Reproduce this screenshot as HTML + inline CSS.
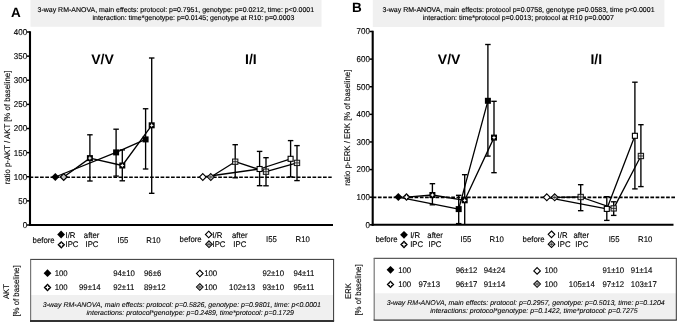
<!DOCTYPE html>
<html><head><meta charset="utf-8"><style>
html,body{margin:0;padding:0;background:#fff;width:677px;height:322px;overflow:hidden}
svg{display:block;will-change:transform}
text{font-family:"Liberation Sans", sans-serif;text-rendering:geometricPrecision}
</style></head><body>
<svg width="677" height="322" viewBox="0 0 677 322">
<rect width="677" height="322" fill="#fff"/>
<rect x="30.5" y="0" width="291.0" height="26.8" fill="#f0f0f0"/>
<text x="11" y="17.2" font-size="13.5" font-weight="bold" font-style="normal" text-anchor="start" fill="#000"  >A</text>
<text x="37.6" y="11.8" font-size="6.975" font-weight="normal" font-style="normal" text-anchor="start" fill="#000" stroke="#000" stroke-width="0.14" >3-way RM-ANOVA, main effects: protocol: p=0.7951, genotype: p=0.0212, time: p&lt;0.0001</text>
<text x="92.5" y="20.4" font-size="6.975" font-weight="normal" font-style="normal" text-anchor="start" fill="#000" stroke="#000" stroke-width="0.14" >interaction: time*genotype: p=0.0145; genotype at R10: p=0.0003</text>
<line x1="29.56" y1="177.2" x2="331.7" y2="177.2" stroke="#000" stroke-width="1.6" stroke-dasharray="3.7,1.54"/>
<line x1="27" y1="225.0" x2="30" y2="225.0" stroke="#000" stroke-width="1.5" />
<text transform="translate(27.2,227.9) scale(1,1.06)" font-size="8" font-weight="normal" font-style="normal" text-anchor="end" fill="#000" stroke="#000" stroke-width="0.12" >0</text>
<line x1="27" y1="200.875" x2="30" y2="200.875" stroke="#000" stroke-width="1.5" />
<text transform="translate(27.2,203.775) scale(1,1.06)" font-size="8" font-weight="normal" font-style="normal" text-anchor="end" fill="#000" stroke="#000" stroke-width="0.12" >50</text>
<line x1="27" y1="176.75" x2="30" y2="176.75" stroke="#000" stroke-width="1.5" />
<text transform="translate(27.2,179.65) scale(1,1.06)" font-size="8" font-weight="normal" font-style="normal" text-anchor="end" fill="#000" stroke="#000" stroke-width="0.12" >100</text>
<line x1="27" y1="152.625" x2="30" y2="152.625" stroke="#000" stroke-width="1.5" />
<text transform="translate(27.2,155.525) scale(1,1.06)" font-size="8" font-weight="normal" font-style="normal" text-anchor="end" fill="#000" stroke="#000" stroke-width="0.12" >150</text>
<line x1="27" y1="128.5" x2="30" y2="128.5" stroke="#000" stroke-width="1.5" />
<text transform="translate(27.2,131.4) scale(1,1.06)" font-size="8" font-weight="normal" font-style="normal" text-anchor="end" fill="#000" stroke="#000" stroke-width="0.12" >200</text>
<line x1="27" y1="104.375" x2="30" y2="104.375" stroke="#000" stroke-width="1.5" />
<text transform="translate(27.2,107.275) scale(1,1.06)" font-size="8" font-weight="normal" font-style="normal" text-anchor="end" fill="#000" stroke="#000" stroke-width="0.12" >250</text>
<line x1="27" y1="80.25" x2="30" y2="80.25" stroke="#000" stroke-width="1.5" />
<text transform="translate(27.2,83.15) scale(1,1.06)" font-size="8" font-weight="normal" font-style="normal" text-anchor="end" fill="#000" stroke="#000" stroke-width="0.12" >300</text>
<line x1="27" y1="56.125" x2="30" y2="56.125" stroke="#000" stroke-width="1.5" />
<text transform="translate(27.2,59.025) scale(1,1.06)" font-size="8" font-weight="normal" font-style="normal" text-anchor="end" fill="#000" stroke="#000" stroke-width="0.12" >350</text>
<line x1="27" y1="32.0" x2="30" y2="32.0" stroke="#000" stroke-width="1.5" />
<text transform="translate(27.2,34.9) scale(1,1.06)" font-size="8" font-weight="normal" font-style="normal" text-anchor="end" fill="#000" stroke="#000" stroke-width="0.12" >400</text>
<line x1="30" y1="31.25" x2="30" y2="226" stroke="#000" stroke-width="2.1" />
<line x1="29" y1="225" x2="333" y2="225" stroke="#000" stroke-width="2.1" />
<text transform="translate(9.6,127.5) rotate(-90) scale(1,1.06)" x="0" y="0" font-size="7.8" text-anchor="middle" fill="#000" stroke="#000" stroke-width="0.12" stroke-linejoin="round">ratio p-AKT / AKT [% of baseline]</text>
<text x="91.2" y="64.4" font-size="14" font-weight="bold" font-style="normal" text-anchor="start" fill="#000"  >V/V</text>
<text x="245.0" y="64.3" font-size="14" font-weight="bold" font-style="normal" text-anchor="start" fill="#000"  >I/I</text>
<line x1="116.1" y1="129.2" x2="116.1" y2="176.1" stroke="#000" stroke-width="1.35" />
<line x1="113.35" y1="129.2" x2="118.85" y2="129.2" stroke="#000" stroke-width="1.35" />
<line x1="113.35" y1="176.1" x2="118.85" y2="176.1" stroke="#000" stroke-width="1.35" />
<line x1="145.6" y1="108.75" x2="145.6" y2="169" stroke="#000" stroke-width="1.35" />
<line x1="142.85" y1="108.75" x2="148.35" y2="108.75" stroke="#000" stroke-width="1.35" />
<line x1="142.85" y1="169" x2="148.35" y2="169" stroke="#000" stroke-width="1.35" />
<line x1="89.9" y1="134.8" x2="89.9" y2="181" stroke="#000" stroke-width="1.35" />
<line x1="87.15" y1="134.8" x2="92.65" y2="134.8" stroke="#000" stroke-width="1.35" />
<line x1="87.15" y1="181" x2="92.65" y2="181" stroke="#000" stroke-width="1.35" />
<line x1="122.3" y1="149.9" x2="122.3" y2="180.8" stroke="#000" stroke-width="1.35" />
<line x1="119.55" y1="149.9" x2="125.05" y2="149.9" stroke="#000" stroke-width="1.35" />
<line x1="119.55" y1="180.8" x2="125.05" y2="180.8" stroke="#000" stroke-width="1.35" />
<line x1="151.7" y1="58" x2="151.7" y2="193.3" stroke="#000" stroke-width="1.35" />
<line x1="148.95" y1="58" x2="154.45" y2="58" stroke="#000" stroke-width="1.35" />
<line x1="148.95" y1="193.3" x2="154.45" y2="193.3" stroke="#000" stroke-width="1.35" />
<line x1="259.6" y1="151.4" x2="259.6" y2="185.7" stroke="#000" stroke-width="1.35" />
<line x1="256.85" y1="151.4" x2="262.35" y2="151.4" stroke="#000" stroke-width="1.35" />
<line x1="256.85" y1="185.7" x2="262.35" y2="185.7" stroke="#000" stroke-width="1.35" />
<line x1="290.6" y1="140.6" x2="290.6" y2="176.9" stroke="#000" stroke-width="1.35" />
<line x1="287.85" y1="140.6" x2="293.35" y2="140.6" stroke="#000" stroke-width="1.35" />
<line x1="287.85" y1="176.9" x2="293.35" y2="176.9" stroke="#000" stroke-width="1.35" />
<line x1="235.2" y1="144.7" x2="235.2" y2="177.8" stroke="#000" stroke-width="1.35" />
<line x1="232.45" y1="144.7" x2="237.95" y2="144.7" stroke="#000" stroke-width="1.35" />
<line x1="232.45" y1="177.8" x2="237.95" y2="177.8" stroke="#000" stroke-width="1.35" />
<line x1="266" y1="157.7" x2="266" y2="185.8" stroke="#000" stroke-width="1.35" />
<line x1="263.25" y1="157.7" x2="268.75" y2="157.7" stroke="#000" stroke-width="1.35" />
<line x1="263.25" y1="185.8" x2="268.75" y2="185.8" stroke="#000" stroke-width="1.35" />
<line x1="297" y1="145.6" x2="297" y2="180.6" stroke="#000" stroke-width="1.35" />
<line x1="294.25" y1="145.6" x2="299.75" y2="145.6" stroke="#000" stroke-width="1.35" />
<line x1="294.25" y1="180.6" x2="299.75" y2="180.6" stroke="#000" stroke-width="1.35" />
<polyline points="55.3,177 116.1,152.4 145.6,139.4" fill="none" stroke="#000" stroke-width="1.3" stroke-linejoin="round"/>
<polyline points="63.7,177 89.9,158.1 122.3,165.5 151.7,125.3" fill="none" stroke="#000" stroke-width="1.3" stroke-linejoin="round"/>
<polyline points="202.8,177 259.6,169 290.6,158.8" fill="none" stroke="#000" stroke-width="1.3" stroke-linejoin="round"/>
<polyline points="210.8,177 235.2,161.7 266,171.7 297,162.9" fill="none" stroke="#000" stroke-width="1.3" stroke-linejoin="round"/>
<polygon points="55.3,173.0 59.3,177 55.3,181.0 51.3,177" fill="#000"/>
<rect x="113.1" y="149.4" width="6.0" height="6.0" fill="#000"/>
<rect x="142.6" y="136.4" width="6.0" height="6.0" fill="#000"/>
<polygon points="63.7,173.6 67.10000000000001,177 63.7,180.4 60.300000000000004,177" fill="#c4c4c4" stroke="#000" stroke-width="1.3"/>
<rect x="86.9" y="155.1" width="6.0" height="6.0" fill="#000"/>
<polygon points="89.9,156.06 90.56,157.44 91.94000000000001,158.1 90.56,158.76 89.9,160.14 89.24000000000001,158.76 87.86,158.1 89.24000000000001,157.44" fill="#fff"/>
<rect x="119.3" y="162.5" width="6.0" height="6.0" fill="#000"/>
<polygon points="122.3,163.46 122.96,164.84 124.34,165.5 122.96,166.16 122.3,167.54 121.64,166.16 120.25999999999999,165.5 121.64,164.84" fill="#fff"/>
<rect x="148.7" y="122.3" width="6.0" height="6.0" fill="#000"/>
<polygon points="151.7,123.25999999999999 152.35999999999999,124.64 153.73999999999998,125.3 152.35999999999999,125.96 151.7,127.34 151.04,125.96 149.66,125.3 151.04,124.64" fill="#fff"/>
<polygon points="202.8,173.6 206.20000000000002,177 202.8,180.4 199.4,177" fill="#fff" stroke="#000" stroke-width="1.1"/>
<rect x="257.1" y="166.5" width="5.0" height="5.0" fill="#fff" stroke="#000" stroke-width="1.1"/>
<rect x="288.1" y="156.3" width="5.0" height="5.0" fill="#fff" stroke="#000" stroke-width="1.1"/>
<polygon points="210.8,173.55 214.25,177 210.8,180.45 207.35000000000002,177" fill="#e2e2e2" stroke="#000" stroke-width="1.05"/>
<line x1="208.73000000000002" y1="177" x2="212.87" y2="177" stroke="#111" stroke-width="0.9" />
<line x1="210.8" y1="174.93" x2="210.8" y2="179.07" stroke="#333" stroke-width="0.6" />
<rect x="232.54999999999998" y="159.04999999999998" width="5.3" height="5.3" fill="#e6e6e6" stroke="#1a1a1a" stroke-width="1.05"/>
<line x1="232.54999999999998" y1="161.7" x2="237.85" y2="161.7" stroke="#111" stroke-width="0.8" />
<line x1="235.2" y1="159.04999999999998" x2="235.2" y2="164.35" stroke="#111" stroke-width="0.8" />
<rect x="263.35" y="169.04999999999998" width="5.3" height="5.3" fill="#e6e6e6" stroke="#1a1a1a" stroke-width="1.05"/>
<line x1="263.35" y1="171.7" x2="268.65" y2="171.7" stroke="#111" stroke-width="0.8" />
<line x1="266" y1="169.04999999999998" x2="266" y2="174.35" stroke="#111" stroke-width="0.8" />
<rect x="294.35" y="160.25" width="5.3" height="5.3" fill="#e6e6e6" stroke="#1a1a1a" stroke-width="1.05"/>
<line x1="294.35" y1="162.9" x2="299.65" y2="162.9" stroke="#111" stroke-width="0.8" />
<line x1="297" y1="160.25" x2="297" y2="165.55" stroke="#111" stroke-width="0.8" />
<text transform="translate(32.6,242.5) scale(1,1.06)" font-size="7.8" font-weight="normal" font-style="normal" text-anchor="start" fill="#000" stroke="#000" stroke-width="0.12" >before</text>
<polygon points="61.1,230.6 65.0,234.5 61.1,238.4 57.2,234.5" fill="#000"/>
<text transform="translate(65.5,237.5) scale(1,1.06)" font-size="7.8" font-weight="normal" font-style="normal" text-anchor="start" fill="#000" stroke="#000" stroke-width="0.12" >I/R</text>
<polygon points="61.3,240.9 65.2,244.8 61.3,248.70000000000002 57.4,244.8" fill="#000"/>
<polygon points="61.3,242.382 62.08,244.02 63.717999999999996,244.8 62.08,245.58 61.3,247.21800000000002 60.519999999999996,245.58 58.882,244.8 60.519999999999996,244.02" fill="#fff"/>
<text transform="translate(65.5,246.9) scale(1,1.06)" font-size="7.8" font-weight="normal" font-style="normal" text-anchor="start" fill="#000" stroke="#000" stroke-width="0.12" >IPC</text>
<text transform="translate(83.8,237.5) scale(1,1.06)" font-size="7.8" font-weight="normal" font-style="normal" text-anchor="start" fill="#000" stroke="#000" stroke-width="0.12" >after</text>
<text transform="translate(85.5,246.9) scale(1,1.06)" font-size="7.8" font-weight="normal" font-style="normal" text-anchor="start" fill="#000" stroke="#000" stroke-width="0.12" >IPC</text>
<text transform="translate(117.6,242.5) scale(1,1.06)" font-size="7.8" font-weight="normal" font-style="normal" text-anchor="start" fill="#000" stroke="#000" stroke-width="0.12" >I55</text>
<text transform="translate(146.3,242.5) scale(1,1.06)" font-size="7.8" font-weight="normal" font-style="normal" text-anchor="start" fill="#000" stroke="#000" stroke-width="0.12" >R10</text>
<text transform="translate(179.6,242.3) scale(1,1.06)" font-size="7.8" font-weight="normal" font-style="normal" text-anchor="start" fill="#000" stroke="#000" stroke-width="0.12" >before</text>
<polygon points="208.7,231.2 212.0,234.5 208.7,237.8 205.39999999999998,234.5" fill="#fff" stroke="#000" stroke-width="1.1"/>
<text transform="translate(212.3,237.5) scale(1,1.06)" font-size="7.8" font-weight="normal" font-style="normal" text-anchor="start" fill="#000" stroke="#000" stroke-width="0.12" >I/R</text>
<polygon points="209.0,240.85 212.35,244.2 209.0,247.54999999999998 205.65,244.2" fill="#e2e2e2" stroke="#000" stroke-width="1.05"/>
<line x1="206.99" y1="244.2" x2="211.01" y2="244.2" stroke="#111" stroke-width="0.9" />
<line x1="209.0" y1="242.19" x2="209.0" y2="246.20999999999998" stroke="#333" stroke-width="0.6" />
<text transform="translate(212.5,246.9) scale(1,1.06)" font-size="7.8" font-weight="normal" font-style="normal" text-anchor="start" fill="#000" stroke="#000" stroke-width="0.12" >IPC</text>
<text transform="translate(232.0,237.5) scale(1,1.06)" font-size="7.8" font-weight="normal" font-style="normal" text-anchor="start" fill="#000" stroke="#000" stroke-width="0.12" >after</text>
<text transform="translate(233.3,246.9) scale(1,1.06)" font-size="7.8" font-weight="normal" font-style="normal" text-anchor="start" fill="#000" stroke="#000" stroke-width="0.12" >IPC</text>
<text transform="translate(266.1,242.3) scale(1,1.06)" font-size="7.8" font-weight="normal" font-style="normal" text-anchor="start" fill="#000" stroke="#000" stroke-width="0.12" >I55</text>
<text transform="translate(295.5,242.3) scale(1,1.06)" font-size="7.8" font-weight="normal" font-style="normal" text-anchor="start" fill="#000" stroke="#000" stroke-width="0.12" >R10</text>
<rect x="30.6" y="295" width="303.0" height="26.0" fill="#f0f0f0"/>
<line x1="30.1" y1="259.4" x2="334.1" y2="259.4" stroke="#333" stroke-width="1.0" />
<line x1="333.6" y1="259.4" x2="333.6" y2="321.0" stroke="#333" stroke-width="1.0" />
<line x1="30.6" y1="259.4" x2="30.6" y2="321.0" stroke="#777" stroke-width="1.2" />
<line x1="30.0" y1="321.0" x2="334.1" y2="321.0" stroke="#333" stroke-width="2.0" />
<polygon points="47.5,269.3 51.4,273.2 47.5,277.09999999999997 43.6,273.2" fill="#000"/>
<text transform="translate(54.7,275.8) scale(1,1.06)" font-size="7.8" font-weight="normal" font-style="normal" text-anchor="start" fill="#000" stroke="#000" stroke-width="0.12" >100</text>
<text transform="translate(113.2,275.8) scale(1,1.06)" font-size="7.8" font-weight="normal" font-style="normal" text-anchor="start" fill="#000" stroke="#000" stroke-width="0.12" >94±10</text>
<text transform="translate(144.0,275.8) scale(1,1.06)" font-size="7.8" font-weight="normal" font-style="normal" text-anchor="start" fill="#000" stroke="#000" stroke-width="0.12" >96±6</text>
<polygon points="47.5,283.6 51.4,287.5 47.5,291.4 43.6,287.5" fill="#000"/>
<polygon points="47.5,285.082 48.28,286.72 49.918,287.5 48.28,288.28 47.5,289.918 46.72,288.28 45.082,287.5 46.72,286.72" fill="#fff"/>
<text transform="translate(54.7,290) scale(1,1.06)" font-size="7.8" font-weight="normal" font-style="normal" text-anchor="start" fill="#000" stroke="#000" stroke-width="0.12" >100</text>
<text transform="translate(79.0,290) scale(1,1.06)" font-size="7.8" font-weight="normal" font-style="normal" text-anchor="start" fill="#000" stroke="#000" stroke-width="0.12" >99±14</text>
<text transform="translate(113.2,290) scale(1,1.06)" font-size="7.8" font-weight="normal" font-style="normal" text-anchor="start" fill="#000" stroke="#000" stroke-width="0.12" >92±11</text>
<text transform="translate(144.0,290) scale(1,1.06)" font-size="7.8" font-weight="normal" font-style="normal" text-anchor="start" fill="#000" stroke="#000" stroke-width="0.12" >89±12</text>
<polygon points="199.8,270.2 203.10000000000002,273.5 199.8,276.8 196.5,273.5" fill="#fff" stroke="#000" stroke-width="1.1"/>
<text transform="translate(204.2,275.8) scale(1,1.06)" font-size="7.8" font-weight="normal" font-style="normal" text-anchor="start" fill="#000" stroke="#000" stroke-width="0.12" >100</text>
<text transform="translate(262.4,275.8) scale(1,1.06)" font-size="7.8" font-weight="normal" font-style="normal" text-anchor="start" fill="#000" stroke="#000" stroke-width="0.12" >92±10</text>
<text transform="translate(293.4,275.8) scale(1,1.06)" font-size="7.8" font-weight="normal" font-style="normal" text-anchor="start" fill="#000" stroke="#000" stroke-width="0.12" >94±11</text>
<polygon points="199.8,283.65 203.15,287 199.8,290.35 196.45000000000002,287" fill="#e2e2e2" stroke="#000" stroke-width="1.05"/>
<line x1="197.79000000000002" y1="287" x2="201.81" y2="287" stroke="#111" stroke-width="0.9" />
<line x1="199.8" y1="284.99" x2="199.8" y2="289.01" stroke="#333" stroke-width="0.6" />
<text transform="translate(204.2,290) scale(1,1.06)" font-size="7.8" font-weight="normal" font-style="normal" text-anchor="start" fill="#000" stroke="#000" stroke-width="0.12" >100</text>
<text transform="translate(229.1,290) scale(1,1.06)" font-size="7.8" font-weight="normal" font-style="normal" text-anchor="start" fill="#000" stroke="#000" stroke-width="0.12" >102±13</text>
<text transform="translate(262.4,290) scale(1,1.06)" font-size="7.8" font-weight="normal" font-style="normal" text-anchor="start" fill="#000" stroke="#000" stroke-width="0.12" >93±10</text>
<text transform="translate(293.4,290) scale(1,1.06)" font-size="7.8" font-weight="normal" font-style="normal" text-anchor="start" fill="#000" stroke="#000" stroke-width="0.12" >95±11</text>
<text x="42.8" y="306.6" font-size="7" font-weight="normal" font-style="italic" text-anchor="start" fill="#000" stroke="#000" stroke-width="0.08" >3-way RM-ANOVA, main effects: protocol: p=0.5826, genotype: p=0.9801, time: p&lt;0.0001</text>
<text x="86.5" y="314.6" font-size="7" font-weight="normal" font-style="italic" text-anchor="start" fill="#000" stroke="#000" stroke-width="0.08" >interactions: protocol*genotype: p=0.2489, time*protocol: p=0.1729</text>
<text transform="translate(8.9,291.5) rotate(-90) scale(1,1.06)" x="0" y="0" font-size="7.8" text-anchor="middle" fill="#000" stroke="#000" stroke-width="0.12" stroke-linejoin="round">AKT</text>
<text transform="translate(18.9,291) rotate(-90) scale(1,1.06)" x="0" y="0" font-size="7.8" text-anchor="middle" fill="#000" stroke="#000" stroke-width="0.12" stroke-linejoin="round">[% of baseline]</text>
<rect x="372.8" y="0" width="291.59999999999997" height="27" fill="#f0f0f0"/>
<text x="351.9" y="11.9" font-size="13.5" font-weight="bold" font-style="normal" text-anchor="start" fill="#000"  >B</text>
<text x="382.6" y="11.8" font-size="7" font-weight="normal" font-style="normal" text-anchor="start" fill="#000" stroke="#000" stroke-width="0.14" >3-way RM-ANOVA, main effects: protocol p=0.0758, genotype p=0.0583, time p&lt;0.0001</text>
<text x="422.8" y="19.9" font-size="7" font-weight="normal" font-style="normal" text-anchor="start" fill="#000" stroke="#000" stroke-width="0.14" >interaction: time*protocol p=0.0013; protocol at R10 p=0.0007</text>
<line x1="372.66" y1="197.3857142857143" x2="675" y2="197.3857142857143" stroke="#000" stroke-width="1.6" stroke-dasharray="3.7,1.54"/>
<line x1="369.7" y1="224.8" x2="372.7" y2="224.8" stroke="#000" stroke-width="1.5" />
<text transform="translate(369.9,227.70000000000002) scale(1,1.06)" font-size="8" font-weight="normal" font-style="normal" text-anchor="end" fill="#000" stroke="#000" stroke-width="0.12" >0</text>
<line x1="369.7" y1="197.1857142857143" x2="372.7" y2="197.1857142857143" stroke="#000" stroke-width="1.5" />
<text transform="translate(369.9,200.08571428571432) scale(1,1.06)" font-size="8" font-weight="normal" font-style="normal" text-anchor="end" fill="#000" stroke="#000" stroke-width="0.12" >100</text>
<line x1="369.7" y1="169.57142857142858" x2="372.7" y2="169.57142857142858" stroke="#000" stroke-width="1.5" />
<text transform="translate(369.9,172.4714285714286) scale(1,1.06)" font-size="8" font-weight="normal" font-style="normal" text-anchor="end" fill="#000" stroke="#000" stroke-width="0.12" >200</text>
<line x1="369.7" y1="141.95714285714286" x2="372.7" y2="141.95714285714286" stroke="#000" stroke-width="1.5" />
<text transform="translate(369.9,144.85714285714286) scale(1,1.06)" font-size="8" font-weight="normal" font-style="normal" text-anchor="end" fill="#000" stroke="#000" stroke-width="0.12" >300</text>
<line x1="369.7" y1="114.34285714285716" x2="372.7" y2="114.34285714285716" stroke="#000" stroke-width="1.5" />
<text transform="translate(369.9,117.24285714285716) scale(1,1.06)" font-size="8" font-weight="normal" font-style="normal" text-anchor="end" fill="#000" stroke="#000" stroke-width="0.12" >400</text>
<line x1="369.7" y1="86.72857142857146" x2="372.7" y2="86.72857142857146" stroke="#000" stroke-width="1.5" />
<text transform="translate(369.9,89.62857142857146) scale(1,1.06)" font-size="8" font-weight="normal" font-style="normal" text-anchor="end" fill="#000" stroke="#000" stroke-width="0.12" >500</text>
<line x1="369.7" y1="59.11428571428573" x2="372.7" y2="59.11428571428573" stroke="#000" stroke-width="1.5" />
<text transform="translate(369.9,62.01428571428573) scale(1,1.06)" font-size="8" font-weight="normal" font-style="normal" text-anchor="end" fill="#000" stroke="#000" stroke-width="0.12" >600</text>
<line x1="369.7" y1="31.50000000000003" x2="372.7" y2="31.50000000000003" stroke="#000" stroke-width="1.5" />
<text transform="translate(369.9,34.40000000000003) scale(1,1.06)" font-size="8" font-weight="normal" font-style="normal" text-anchor="end" fill="#000" stroke="#000" stroke-width="0.12" >700</text>
<line x1="372.7" y1="30.75" x2="372.7" y2="225.8" stroke="#000" stroke-width="2.1" />
<line x1="371.7" y1="224.8" x2="673.5" y2="224.8" stroke="#000" stroke-width="2.1" />
<text transform="translate(350.1,127.75) rotate(-90) scale(1,1.06)" x="0" y="0" font-size="7.8" text-anchor="middle" fill="#000" stroke="#000" stroke-width="0.12" stroke-linejoin="round">ratio p-ERK / ERK [% of baseline]</text>
<text x="437.8" y="63.6" font-size="14" font-weight="bold" font-style="normal" text-anchor="start" fill="#000"  >V/V</text>
<text x="590.4" y="63.6" font-size="14" font-weight="bold" font-style="normal" text-anchor="start" fill="#000"  >I/I</text>
<line x1="458.7" y1="195.3" x2="458.7" y2="223.6" stroke="#000" stroke-width="1.35" />
<line x1="455.95" y1="195.3" x2="461.45" y2="195.3" stroke="#000" stroke-width="1.35" />
<line x1="455.95" y1="223.6" x2="461.45" y2="223.6" stroke="#000" stroke-width="1.35" />
<line x1="487.9" y1="44.5" x2="487.9" y2="156.1" stroke="#000" stroke-width="1.35" />
<line x1="485.15" y1="44.5" x2="490.65" y2="44.5" stroke="#000" stroke-width="1.35" />
<line x1="485.15" y1="156.1" x2="490.65" y2="156.1" stroke="#000" stroke-width="1.35" />
<line x1="432.4" y1="183.7" x2="432.4" y2="204.8" stroke="#000" stroke-width="1.35" />
<line x1="429.65" y1="183.7" x2="435.15" y2="183.7" stroke="#000" stroke-width="1.35" />
<line x1="429.65" y1="204.8" x2="435.15" y2="204.8" stroke="#000" stroke-width="1.35" />
<line x1="464.7" y1="174.7" x2="464.7" y2="224.8" stroke="#000" stroke-width="1.35" />
<line x1="461.95" y1="174.7" x2="467.45" y2="174.7" stroke="#000" stroke-width="1.35" />
<line x1="494" y1="101.3" x2="494" y2="172.7" stroke="#000" stroke-width="1.35" />
<line x1="491.25" y1="101.3" x2="496.75" y2="101.3" stroke="#000" stroke-width="1.35" />
<line x1="491.25" y1="172.7" x2="496.75" y2="172.7" stroke="#000" stroke-width="1.35" />
<line x1="606.8" y1="196.7" x2="606.8" y2="220.4" stroke="#000" stroke-width="1.35" />
<line x1="604.05" y1="196.7" x2="609.55" y2="196.7" stroke="#000" stroke-width="1.35" />
<line x1="604.05" y1="220.4" x2="609.55" y2="220.4" stroke="#000" stroke-width="1.35" />
<line x1="634.9" y1="82.2" x2="634.9" y2="188.9" stroke="#000" stroke-width="1.35" />
<line x1="632.15" y1="82.2" x2="637.65" y2="82.2" stroke="#000" stroke-width="1.35" />
<line x1="632.15" y1="188.9" x2="637.65" y2="188.9" stroke="#000" stroke-width="1.35" />
<line x1="580.7" y1="184.7" x2="580.7" y2="210.7" stroke="#000" stroke-width="1.35" />
<line x1="577.95" y1="184.7" x2="583.45" y2="184.7" stroke="#000" stroke-width="1.35" />
<line x1="577.95" y1="210.7" x2="583.45" y2="210.7" stroke="#000" stroke-width="1.35" />
<line x1="613.7" y1="201.8" x2="613.7" y2="215.4" stroke="#000" stroke-width="1.35" />
<line x1="610.95" y1="201.8" x2="616.45" y2="201.8" stroke="#000" stroke-width="1.35" />
<line x1="610.95" y1="215.4" x2="616.45" y2="215.4" stroke="#000" stroke-width="1.35" />
<line x1="640.9" y1="124.7" x2="640.9" y2="186.6" stroke="#000" stroke-width="1.35" />
<line x1="638.15" y1="124.7" x2="643.65" y2="124.7" stroke="#000" stroke-width="1.35" />
<line x1="638.15" y1="186.6" x2="643.65" y2="186.6" stroke="#000" stroke-width="1.35" />
<polyline points="398.3,197.1 458.7,209.1 487.9,100.8" fill="none" stroke="#000" stroke-width="1.3" stroke-linejoin="round"/>
<polyline points="406.5,197.1 432.4,195 464.7,200.3 494,137.6" fill="none" stroke="#000" stroke-width="1.3" stroke-linejoin="round"/>
<polyline points="546.8,197.3 606.8,208.9 634.9,135.8" fill="none" stroke="#000" stroke-width="1.3" stroke-linejoin="round"/>
<polyline points="554.7,197.3 580.7,197 613.7,208.4 640.9,156" fill="none" stroke="#000" stroke-width="1.3" stroke-linejoin="round"/>
<polygon points="398.3,193.1 402.3,197.1 398.3,201.1 394.3,197.1" fill="#000"/>
<rect x="455.7" y="206.1" width="6.0" height="6.0" fill="#000"/>
<rect x="484.9" y="97.8" width="6.0" height="6.0" fill="#000"/>
<polygon points="406.5,193.1 410.5,197.1 406.5,201.1 402.5,197.1" fill="#000"/>
<polygon points="406.5,194.62 407.3,196.29999999999998 408.98,197.1 407.3,197.9 406.5,199.57999999999998 405.7,197.9 404.02,197.1 405.7,196.29999999999998" fill="#fff"/>
<rect x="429.4" y="192.0" width="6.0" height="6.0" fill="#000"/>
<polygon points="432.4,192.96 433.06,194.34 434.44,195 433.06,195.66 432.4,197.04 431.73999999999995,195.66 430.35999999999996,195 431.73999999999995,194.34" fill="#fff"/>
<rect x="461.7" y="197.3" width="6.0" height="6.0" fill="#000"/>
<polygon points="464.7,198.26000000000002 465.36,199.64000000000001 466.74,200.3 465.36,200.96 464.7,202.34 464.03999999999996,200.96 462.65999999999997,200.3 464.03999999999996,199.64000000000001" fill="#fff"/>
<rect x="491.0" y="134.6" width="6.0" height="6.0" fill="#000"/>
<polygon points="494,135.56 494.66,136.94 496.04,137.6 494.66,138.26 494,139.64 493.34,138.26 491.96,137.6 493.34,136.94" fill="#fff"/>
<polygon points="546.8,193.9 550.1999999999999,197.3 546.8,200.70000000000002 543.4,197.3" fill="#fff" stroke="#000" stroke-width="1.1"/>
<rect x="604.3" y="206.4" width="5.0" height="5.0" fill="#fff" stroke="#000" stroke-width="1.1"/>
<rect x="632.4" y="133.3" width="5.0" height="5.0" fill="#fff" stroke="#000" stroke-width="1.1"/>
<polygon points="554.7,193.85000000000002 558.1500000000001,197.3 554.7,200.75 551.25,197.3" fill="#e2e2e2" stroke="#000" stroke-width="1.05"/>
<line x1="552.63" y1="197.3" x2="556.7700000000001" y2="197.3" stroke="#111" stroke-width="0.9" />
<line x1="554.7" y1="195.23000000000002" x2="554.7" y2="199.37" stroke="#333" stroke-width="0.6" />
<rect x="578.0500000000001" y="194.35" width="5.3" height="5.3" fill="#e6e6e6" stroke="#1a1a1a" stroke-width="1.05"/>
<line x1="578.0500000000001" y1="197" x2="583.35" y2="197" stroke="#111" stroke-width="0.8" />
<line x1="580.7" y1="194.35" x2="580.7" y2="199.65" stroke="#111" stroke-width="0.8" />
<rect x="611.0500000000001" y="205.75" width="5.3" height="5.3" fill="#e6e6e6" stroke="#1a1a1a" stroke-width="1.05"/>
<line x1="611.0500000000001" y1="208.4" x2="616.35" y2="208.4" stroke="#111" stroke-width="0.8" />
<line x1="613.7" y1="205.75" x2="613.7" y2="211.05" stroke="#111" stroke-width="0.8" />
<rect x="638.25" y="153.35" width="5.3" height="5.3" fill="#e6e6e6" stroke="#1a1a1a" stroke-width="1.05"/>
<line x1="638.25" y1="156" x2="643.55" y2="156" stroke="#111" stroke-width="0.8" />
<line x1="640.9" y1="153.35" x2="640.9" y2="158.65" stroke="#111" stroke-width="0.8" />
<text transform="translate(375.5,242.2) scale(1,1.06)" font-size="7.8" font-weight="normal" font-style="normal" text-anchor="start" fill="#000" stroke="#000" stroke-width="0.12" >before</text>
<polygon points="404,230.9 407.9,234.8 404,238.70000000000002 400.1,234.8" fill="#000"/>
<text transform="translate(410.2,237.5) scale(1,1.06)" font-size="7.8" font-weight="normal" font-style="normal" text-anchor="start" fill="#000" stroke="#000" stroke-width="0.12" >I/R</text>
<polygon points="404,240.6 407.9,244.5 404,248.4 400.1,244.5" fill="#000"/>
<polygon points="404,242.082 404.78,243.72 406.418,244.5 404.78,245.28 404,246.918 403.22,245.28 401.582,244.5 403.22,243.72" fill="#fff"/>
<text transform="translate(410.2,246.9) scale(1,1.06)" font-size="7.8" font-weight="normal" font-style="normal" text-anchor="start" fill="#000" stroke="#000" stroke-width="0.12" >IPC</text>
<text transform="translate(427.3,237.5) scale(1,1.06)" font-size="7.8" font-weight="normal" font-style="normal" text-anchor="start" fill="#000" stroke="#000" stroke-width="0.12" >after</text>
<text transform="translate(428.5,246.9) scale(1,1.06)" font-size="7.8" font-weight="normal" font-style="normal" text-anchor="start" fill="#000" stroke="#000" stroke-width="0.12" >IPC</text>
<text transform="translate(460.6,242.2) scale(1,1.06)" font-size="7.8" font-weight="normal" font-style="normal" text-anchor="start" fill="#000" stroke="#000" stroke-width="0.12" >I55</text>
<text transform="translate(489.5,242.2) scale(1,1.06)" font-size="7.8" font-weight="normal" font-style="normal" text-anchor="start" fill="#000" stroke="#000" stroke-width="0.12" >R10</text>
<text transform="translate(522.6,241.6) scale(1,1.06)" font-size="7.8" font-weight="normal" font-style="normal" text-anchor="start" fill="#000" stroke="#000" stroke-width="0.12" >before</text>
<polygon points="551.5,231.0 554.8,234.3 551.5,237.60000000000002 548.2,234.3" fill="#fff" stroke="#000" stroke-width="1.1"/>
<text transform="translate(557.6,237.5) scale(1,1.06)" font-size="7.8" font-weight="normal" font-style="normal" text-anchor="start" fill="#000" stroke="#000" stroke-width="0.12" >I/R</text>
<polygon points="551.5,240.85 554.85,244.2 551.5,247.54999999999998 548.15,244.2" fill="#e2e2e2" stroke="#000" stroke-width="1.05"/>
<line x1="549.49" y1="244.2" x2="553.51" y2="244.2" stroke="#111" stroke-width="0.9" />
<line x1="551.5" y1="242.19" x2="551.5" y2="246.20999999999998" stroke="#333" stroke-width="0.6" />
<text transform="translate(557.6,246.9) scale(1,1.06)" font-size="7.8" font-weight="normal" font-style="normal" text-anchor="start" fill="#000" stroke="#000" stroke-width="0.12" >IPC</text>
<text transform="translate(573.5,237.5) scale(1,1.06)" font-size="7.8" font-weight="normal" font-style="normal" text-anchor="start" fill="#000" stroke="#000" stroke-width="0.12" >after</text>
<text transform="translate(575.3,246.9) scale(1,1.06)" font-size="7.8" font-weight="normal" font-style="normal" text-anchor="start" fill="#000" stroke="#000" stroke-width="0.12" >IPC</text>
<text transform="translate(608.7,241.6) scale(1,1.06)" font-size="7.8" font-weight="normal" font-style="normal" text-anchor="start" fill="#000" stroke="#000" stroke-width="0.12" >I55</text>
<text transform="translate(638.1,241.6) scale(1,1.06)" font-size="7.8" font-weight="normal" font-style="normal" text-anchor="start" fill="#000" stroke="#000" stroke-width="0.12" >R10</text>
<rect x="374.2" y="293.3" width="302.09999999999997" height="26.80000000000001" fill="#f0f0f0"/>
<line x1="373.7" y1="258.3" x2="676.8" y2="258.3" stroke="#333" stroke-width="1.0" />
<line x1="676.3" y1="258.3" x2="676.3" y2="320.1" stroke="#333" stroke-width="1.0" />
<line x1="374.2" y1="258.3" x2="374.2" y2="320.1" stroke="#777" stroke-width="1.2" />
<line x1="373.59999999999997" y1="320.1" x2="676.8" y2="320.1" stroke="#333" stroke-width="1.1" />
<polygon points="390.5,265.90000000000003 394.4,269.8 390.5,273.7 386.6,269.8" fill="#000"/>
<text transform="translate(398.2,273.1) scale(1,1.06)" font-size="7.8" font-weight="normal" font-style="normal" text-anchor="start" fill="#000" stroke="#000" stroke-width="0.12" >100</text>
<text transform="translate(455.7,273.1) scale(1,1.06)" font-size="7.8" font-weight="normal" font-style="normal" text-anchor="start" fill="#000" stroke="#000" stroke-width="0.12" >96±12</text>
<text transform="translate(483.7,273.1) scale(1,1.06)" font-size="7.8" font-weight="normal" font-style="normal" text-anchor="start" fill="#000" stroke="#000" stroke-width="0.12" >94±24</text>
<polygon points="390.5,280.5 394.4,284.4 390.5,288.29999999999995 386.6,284.4" fill="#000"/>
<polygon points="390.5,281.98199999999997 391.28,283.62 392.918,284.4 391.28,285.17999999999995 390.5,286.818 389.72,285.17999999999995 388.082,284.4 389.72,283.62" fill="#fff"/>
<text transform="translate(398.2,287.3) scale(1,1.06)" font-size="7.8" font-weight="normal" font-style="normal" text-anchor="start" fill="#000" stroke="#000" stroke-width="0.12" >100</text>
<text transform="translate(418.4,287.3) scale(1,1.06)" font-size="7.8" font-weight="normal" font-style="normal" text-anchor="start" fill="#000" stroke="#000" stroke-width="0.12" >97±13</text>
<text transform="translate(455.7,287.3) scale(1,1.06)" font-size="7.8" font-weight="normal" font-style="normal" text-anchor="start" fill="#000" stroke="#000" stroke-width="0.12" >96±17</text>
<text transform="translate(483.7,287.3) scale(1,1.06)" font-size="7.8" font-weight="normal" font-style="normal" text-anchor="start" fill="#000" stroke="#000" stroke-width="0.12" >91±14</text>
<polygon points="537.1,267.59999999999997 540.4,270.9 537.1,274.2 533.8000000000001,270.9" fill="#fff" stroke="#000" stroke-width="1.1"/>
<text transform="translate(544.5,273.1) scale(1,1.06)" font-size="7.8" font-weight="normal" font-style="normal" text-anchor="start" fill="#000" stroke="#000" stroke-width="0.12" >100</text>
<text transform="translate(602.5,273.1) scale(1,1.06)" font-size="7.8" font-weight="normal" font-style="normal" text-anchor="start" fill="#000" stroke="#000" stroke-width="0.12" >91±10</text>
<text transform="translate(630.8,273.1) scale(1,1.06)" font-size="7.8" font-weight="normal" font-style="normal" text-anchor="start" fill="#000" stroke="#000" stroke-width="0.12" >91±14</text>
<polygon points="537.1,280.65 540.45,284.0 537.1,287.35 533.75,284.0" fill="#e2e2e2" stroke="#000" stroke-width="1.05"/>
<line x1="535.09" y1="284.0" x2="539.11" y2="284.0" stroke="#111" stroke-width="0.9" />
<line x1="537.1" y1="281.99" x2="537.1" y2="286.01" stroke="#333" stroke-width="0.6" />
<text transform="translate(544.5,287.3) scale(1,1.06)" font-size="7.8" font-weight="normal" font-style="normal" text-anchor="start" fill="#000" stroke="#000" stroke-width="0.12" >100</text>
<text transform="translate(568.8,287.3) scale(1,1.06)" font-size="7.8" font-weight="normal" font-style="normal" text-anchor="start" fill="#000" stroke="#000" stroke-width="0.12" >105±14</text>
<text transform="translate(602.5,287.3) scale(1,1.06)" font-size="7.8" font-weight="normal" font-style="normal" text-anchor="start" fill="#000" stroke="#000" stroke-width="0.12" >97±12</text>
<text transform="translate(630.8,287.3) scale(1,1.06)" font-size="7.8" font-weight="normal" font-style="normal" text-anchor="start" fill="#000" stroke="#000" stroke-width="0.12" >103±17</text>
<text x="386.7" y="305.1" font-size="7" font-weight="normal" font-style="italic" text-anchor="start" fill="#000" stroke="#000" stroke-width="0.08" >3-way RM-ANOVA, main effects: protocol: p=0.2957, genotype: p=0.5013, time: p=0.1204</text>
<text x="430.2" y="313.4" font-size="7" font-weight="normal" font-style="italic" text-anchor="start" fill="#000" stroke="#000" stroke-width="0.08" >interactions: protocol*genotype: p=0.1422, time*protocol: p=0.7275</text>
<text transform="translate(350.6,291) rotate(-90) scale(1,1.06)" x="0" y="0" font-size="7.8" text-anchor="middle" fill="#000" stroke="#000" stroke-width="0.12" stroke-linejoin="round">ERK</text>
<text transform="translate(360.7,290) rotate(-90) scale(1,1.06)" x="0" y="0" font-size="7.8" text-anchor="middle" fill="#000" stroke="#000" stroke-width="0.12" stroke-linejoin="round">[% of baseline]</text>
</svg></body></html>
